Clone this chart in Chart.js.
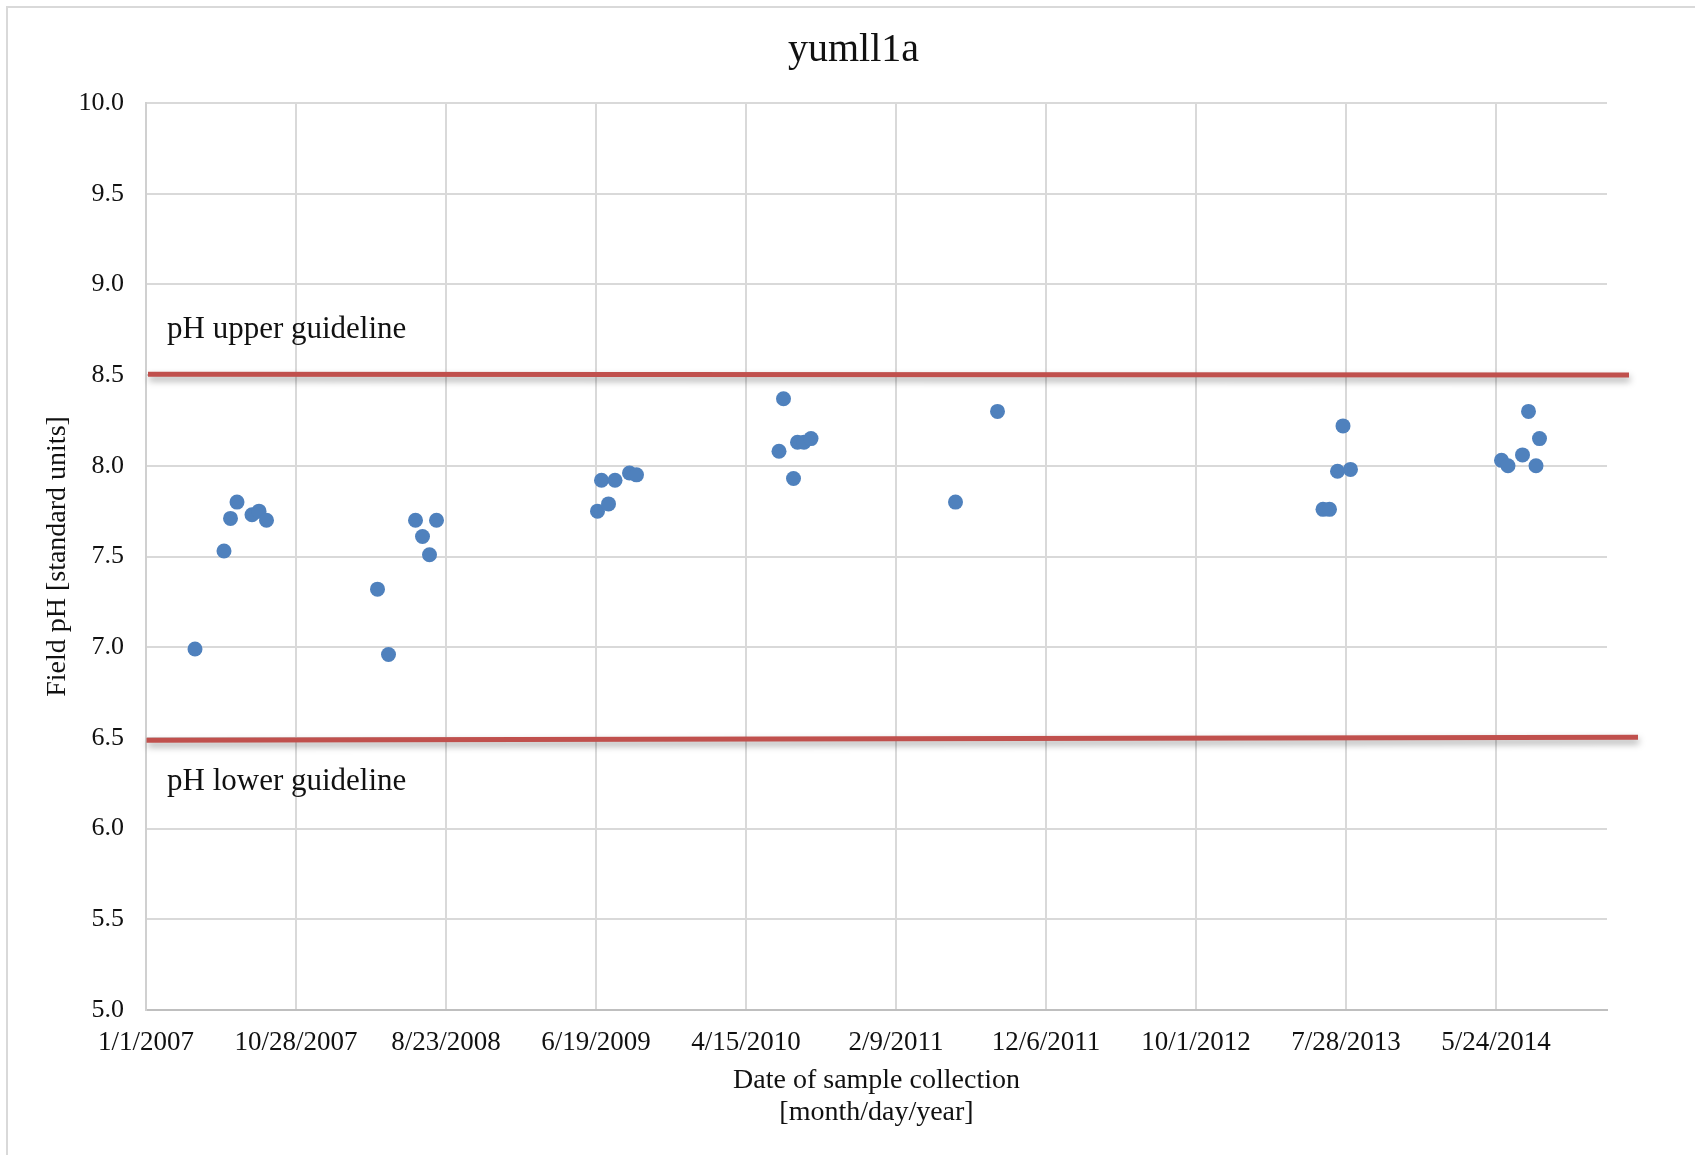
<!DOCTYPE html>
<html>
<head>
<meta charset="utf-8">
<title>yumll1a</title>
<script src="https://cdn.jsdelivr.net/npm/chart.js@4/dist/chart.umd.min.js"></script>
<style>
    html, body { margin: 0; padding: 0; background: #fff; overflow: hidden; }
    #wrap { position: relative; width: 1695px; height: 1155px; }
    #frame {
        position: absolute; left: 6px; top: 6px; width: 2000px; height: 2000px;
        border-left: 2px solid #d9d9d9; border-top: 2px solid #d9d9d9;
    }
    #chart { position: absolute; left: 0; top: 0; }
</style>
</head>
<body>
<div id="wrap">
    <div id="frame"></div>
    <canvas id="chart" width="1695" height="1155"></canvas>
</div>
<script>
// Sample dates and field pH
const sampleDates = [
    '2007-04-09', '2007-06-06', '2007-06-19', '2007-07-02', '2007-08-01', '2007-08-15', '2007-08-30',
    '2008-04-08', '2008-04-30', '2008-06-23', '2008-07-07', '2008-07-21', '2008-08-04',
    '2009-06-22', '2009-06-30', '2009-07-14', '2009-07-27', '2009-08-25', '2009-09-08',
    '2010-06-20', '2010-06-29', '2010-07-19', '2010-07-27', '2010-08-09', '2010-08-23',
    '2011-06-08', '2011-08-31',
    '2013-06-12', '2013-06-25', '2013-07-11', '2013-07-22', '2013-08-06',
    '2014-06-04', '2014-06-17', '2014-07-16', '2014-07-28', '2014-08-12', '2014-08-19'
];
const phValues = [
    6.99, 7.53, 7.71, 7.80, 7.73, 7.75, 7.70,
    7.32, 6.96, 7.70, 7.61, 7.51, 7.70,
    7.75, 7.92, 7.79, 7.92, 7.96, 7.95,
    8.08, 8.37, 7.93, 8.13, 8.13, 8.15,
    7.80, 8.30,
    7.76, 7.76, 7.97, 8.22, 7.98,
    8.03, 8.00, 8.06, 8.30, 8.00, 8.15
];

// Guideline lines (drawn shapes in the original, they run past the plot edge)
const upperGuideDates = ['2007-01-05', '2015-02-14'];
const upperGuideValues = [8.505, 8.50];
const lowerGuideDates = ['2007-01-02', '2015-03-04'];
const lowerGuideValues = [6.487, 6.503];
const guideLabels = ['pH upper guideline', 'pH lower guideline'];
const guideLabelDates = ['2007-02-12', '2007-02-12'];
const guideLabelValues = [8.75, 6.26];

// Axis range and tick dates
const axisStart = '2007-01-01';
const axisEnd = '2015-01-01';
const xTickDates = [
    '2007-01-01', '2007-10-28', '2008-08-23', '2009-06-19', '2010-04-15',
    '2011-02-09', '2011-12-06', '2012-10-01', '2013-07-28', '2014-05-24'
];
const phMin = 5.0;
const phMax = 10.0;
const phStep = 0.5;

const chartTitle = 'yumll1a';

const DAY = 86400000;
const origin = Date.UTC(2007, 0, 1);

function toDay(s) {
    const [y, m, d] = s.split('-').map(Number);
    return Math.round((Date.UTC(y, m - 1, d) - origin) / DAY);
}

function dayLabel(v) {
    const dt = new Date(origin + v * DAY);
    return (dt.getUTCMonth() + 1) + '/' + dt.getUTCDate() + '/' + dt.getUTCFullYear();
}

const FONT = "'Liberation Serif', 'Times New Roman', serif";
const TEXT = '#111';

const samplePoints = sampleDates.map((d, i) => ({ x: toDay(d), y: phValues[i] }));
const upperPoints = upperGuideDates.map((d, i) => ({ x: toDay(d), y: upperGuideValues[i] }));
const lowerPoints = lowerGuideDates.map((d, i) => ({ x: toDay(d), y: lowerGuideValues[i] }));

// Soft drop shadow under the guideline strokes
const shadowPlugin = {
    id: 'guideShadow',
    beforeDatasetDraw(chart, args) {
        if (!chart.data.datasets[args.index].guide) return;
        const ctx = chart.ctx;
        ctx.save();
        ctx.shadowColor = 'rgba(0, 0, 0, 0.35)';
        ctx.shadowBlur = 7;
        ctx.shadowOffsetX = 1;
        ctx.shadowOffsetY = 4;
    },
    afterDatasetDraw(chart, args) {
        if (!chart.data.datasets[args.index].guide) return;
        chart.ctx.restore();
    }
};

// Guideline text boxes and the chart title (title sits a bit right of the plot centre)
const textPlugin = {
    id: 'extraText',
    afterDatasetsDraw(chart) {
        const ctx = chart.ctx;
        const xs = chart.scales.x;
        const ys = chart.scales.y;
        ctx.save();
        ctx.fillStyle = TEXT;
        ctx.textBaseline = 'middle';
        ctx.font = "31px " + FONT;
        ctx.textAlign = 'left';
        guideLabels.forEach((label, i) => {
            ctx.fillText(label, xs.getPixelForValue(toDay(guideLabelDates[i])), ys.getPixelForValue(guideLabelValues[i]));
        });
        ctx.font = "40px " + FONT;
        ctx.textAlign = 'center';
        ctx.fillText(chartTitle, chart.width / 2 + 6, 50);
        ctx.restore();
    }
};

new Chart(document.getElementById('chart'), {
    type: 'scatter',
    data: {
        datasets: [
            {
                label: 'Field pH',
                data: samplePoints,
                backgroundColor: '#4F81BD',
                borderWidth: 0,
                pointRadius: 7.5,
                pointHoverRadius: 7.5
            },
            {
                label: 'upper',
                guide: true,
                type: 'line',
                data: upperPoints,
                borderColor: '#C0504D',
                borderWidth: 5,
                pointRadius: 0,
                clip: false
            },
            {
                label: 'lower',
                guide: true,
                type: 'line',
                data: lowerPoints,
                borderColor: '#C0504D',
                borderWidth: 5,
                pointRadius: 0,
                clip: false
            }
        ]
    },
    options: {
        responsive: false,
        animation: false,
        layout: {
            padding: { left: 7, right: 88, top: 103, bottom: 0 }
        },
        plugins: {
            legend: { display: false },
            tooltip: { enabled: false },
            title: { display: false }
        },
        scales: {
            x: {
                type: 'linear',
                min: toDay(axisStart),
                max: toDay(axisEnd),
                afterFit: scale => { scale.height = 145; },
                afterBuildTicks: scale => {
                    scale.ticks = xTickDates.map(d => ({ value: toDay(d) }));
                },
                ticks: {
                    autoSkip: false,
                    maxRotation: 0,
                    padding: 17,
                    color: TEXT,
                    font: { family: FONT, size: 27 },
                    callback: v => dayLabel(v)
                },
                grid: { color: '#d9d9d9', lineWidth: 2, drawTicks: false },
                border: { color: '#bfbfbf', width: 2 },
                title: {
                    display: true,
                    text: ['Date of sample collection', '[month/day/year]'],
                    color: TEXT,
                    font: { family: FONT, size: 28, lineHeight: 1.12 },
                    padding: { top: 0, bottom: 27 }
                }
            },
            y: {
                min: phMin,
                max: phMax,
                afterFit: scale => { scale.width = 139; },
                ticks: {
                    stepSize: phStep,
                    padding: 22,
                    color: TEXT,
                    font: { family: FONT, size: 26 },
                    callback: v => v.toFixed(1)
                },
                grid: { color: '#d9d9d9', lineWidth: 2, drawTicks: false },
                border: { color: '#d0d0d0', width: 2 },
                title: {
                    display: true,
                    text: 'Field pH [standard units]',
                    color: TEXT,
                    font: { family: FONT, size: 28 },
                    padding: { top: 34, bottom: 0 }
                }
            }
        }
    },
    plugins: [shadowPlugin, textPlugin]
});
</script>
</body>
</html>
